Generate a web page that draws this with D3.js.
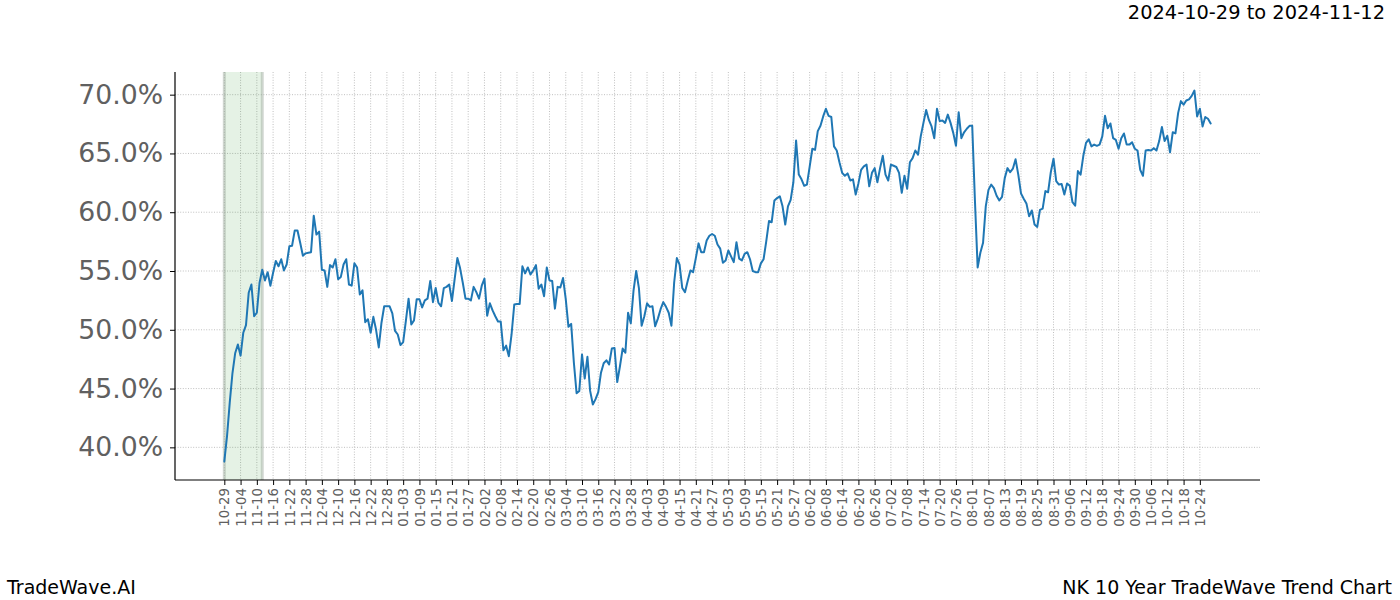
<!DOCTYPE html>
<html><head><meta charset="utf-8">
<script src="https://cdn.jsdelivr.net/npm/d3@7"></script>
<style>
body{margin:0;background:#fff}
svg{display:block}
text{font-family:"DejaVu Sans",sans-serif}
</style>
</head><body>
<svg id="chart" width="1400" height="600"></svg>
<script>
// ---- data ----
const startDate = "2022-10-29";
const values = [
38.8,40.96,43.8,46.3,48.0,48.75,47.8,49.75,50.4,53.15,
53.85,51.15,51.45,54.0,55.1,54.2,54.9,53.75,54.85,55.85,
55.4,56.0,55.05,55.55,57.1,57.15,58.45,58.45,57.4,56.3,
56.5,56.55,56.6,59.7,58.1,58.35,55.1,55.05,53.65,55.5,
55.3,56.0,54.3,54.5,55.55,56.0,53.85,53.75,55.65,55.3,
53.0,53.35,50.65,50.9,49.75,51.1,50.0,48.5,50.6,52.0,
52.0,52.0,51.4,49.9,49.6,48.7,48.95,50.75,52.65,50.45,
50.8,52.6,52.6,51.9,52.5,52.65,54.15,52.35,53.55,52.3,
52.0,53.55,53.65,53.85,52.45,54.3,56.1,55.25,54.0,52.65,
52.65,52.5,53.65,53.2,52.65,53.75,54.35,51.2,52.25,51.65,
51.15,50.7,50.7,48.25,48.65,47.75,49.6,52.15,52.2,52.2,
55.4,54.8,55.3,54.7,55.05,55.5,53.5,53.85,52.85,55.3,
54.2,54.15,51.8,53.65,53.6,54.4,52.6,50.25,50.5,47.2,
44.6,44.8,47.9,45.85,47.7,44.8,43.65,44.1,44.7,46.35,
47.15,47.4,47.05,48.4,48.45,45.55,46.9,48.4,48.05,51.45,
50.55,53.3,55.0,53.55,50.35,51.15,52.25,51.95,52.0,50.3,
50.95,51.75,52.35,51.95,51.45,50.35,54.0,56.1,55.55,53.55,
53.2,54.15,55.05,54.9,56.1,57.35,56.6,56.6,57.6,58.0,
58.15,58.0,57.25,56.9,55.7,55.9,56.75,56.25,55.75,57.45,
56.05,55.9,56.45,56.6,56.0,55.0,54.9,54.9,55.65,56.0,
57.55,59.25,59.15,61.0,61.2,61.35,60.5,58.95,60.5,61.05,
62.55,66.1,63.2,62.8,62.25,62.35,63.85,65.4,65.3,66.9,
67.35,68.15,68.8,68.2,68.1,65.6,65.25,64.25,63.35,63.1,
63.3,62.7,62.8,61.5,62.45,63.6,63.9,64.05,62.2,63.35,
63.75,62.55,63.75,64.8,63.2,62.7,64.05,63.95,63.85,63.35,
61.65,63.1,62.0,64.25,64.6,65.25,64.9,66.45,67.6,68.7,
67.85,67.3,66.3,68.8,67.75,67.8,67.6,68.3,67.6,66.75,
65.65,68.5,66.3,66.8,67.1,67.35,67.35,61.0,55.3,56.55,
57.4,60.5,61.9,62.35,62.05,61.4,61.0,61.3,62.9,63.75,
63.4,63.7,64.5,63.2,61.6,61.15,60.75,59.65,60.15,58.95,
58.75,60.2,60.3,61.8,61.7,63.4,64.55,62.65,62.35,62.4,
61.5,62.45,62.25,60.85,60.55,63.5,63.2,64.8,65.9,66.2,
65.6,65.75,65.65,65.75,66.45,68.2,67.15,67.55,66.3,66.15,
65.4,66.3,66.7,65.75,65.75,65.95,65.4,65.25,63.6,63.1,
65.25,65.3,65.25,65.45,65.25,66.05,67.25,66.05,66.5,65.1,
66.8,66.7,68.45,69.45,69.15,69.5,69.6,69.9,70.35,68.15,
68.8,67.3,68.1,67.95,67.55
];
const xTickLabels = ["10-29","11-04","11-10","11-16","11-22","11-28","12-04","12-10","12-16","12-22","12-28",
"01-03","01-09","01-15","01-21","01-27","02-02","02-08","02-14","02-20","02-26","03-04","03-10","03-16","03-22","03-28",
"04-03","04-09","04-15","04-21","04-27","05-03","05-09","05-15","05-21","05-27","06-02","06-08","06-14","06-20","06-26",
"07-02","07-08","07-14","07-20","07-26","08-01","08-07","08-13","08-19","08-25","08-31","09-06","09-12","09-18","09-24",
"09-30","10-06","10-12","10-18","10-24"];
const yTicks = [40, 45, 50, 55, 60, 65, 70];
const highlightStart = "2022-10-29";
const highlightEnd = "2022-11-12";
const titleText = "2024-10-29 to 2024-11-12";
const footerLeft = "TradeWave.AI";
const footerRight = "NK 10 Year TradeWave Trend Chart";

// ---- layout ----
const svg = d3.select("#chart");
const L = 175, R = 1260, T = 72, B = 480;
const parse = d3.utcParse("%Y-%m-%d");
const start = parse(startDate);
const data = values.map((v, i) => ({date: d3.utcDay.offset(start, i), v}));

// tick labels are month-day; year advances when the month wraps around
let yr = start.getUTCFullYear(), prevM = 0;
const tickDates = xTickLabels.map(s => {
  const m = +s.slice(0, 2);
  if (m < prevM) yr += 1;
  prevM = m;
  return parse(yr + "-" + s);
});

const xExt = d3.extent(data, d => +d.date);
const xPad = (xExt[1] - xExt[0]) * 0.05;
const x = d3.scaleUtc().domain([new Date(xExt[0] - xPad), new Date(xExt[1] + xPad)]).range([L, R]);
const yExt = d3.extent(values);
const yPad = (yExt[1] - yExt[0]) * 0.05;
const y = d3.scaleLinear().domain([yExt[0] - yPad, yExt[1] + yPad]).range([B, T]);

const gridColor = "#b0b0b0";
// grid
const grid = svg.append("g");
grid.selectAll("line.gx").data(tickDates).join("line")
  .attr("x1", d => x(d)).attr("x2", d => x(d))
  .attr("y1", T).attr("y2", B)
  .attr("stroke", gridColor).attr("stroke-width", 0.8).attr("stroke-dasharray", "1,1.6");
grid.selectAll("line.gy").data(yTicks).join("line")
  .attr("x1", L).attr("x2", R)
  .attr("y1", d => y(d)).attr("y2", d => y(d))
  .attr("stroke", gridColor).attr("stroke-width", 0.8).attr("stroke-dasharray", "1,1.6");

// highlight span
const hx0 = x(parse(highlightStart)), hx1 = x(parse(highlightEnd));
svg.append("rect").attr("x", hx0).attr("y", T).attr("width", hx1 - hx0).attr("height", B - T)
  .attr("fill", "green").attr("fill-opacity", 0.1);
[hx0, hx1].forEach(hx => svg.append("line").attr("x1", hx).attr("x2", hx).attr("y1", T).attr("y2", B)
  .attr("stroke", "#9aa69a").attr("stroke-opacity", 0.45).attr("stroke-width", 3));

// line
svg.append("path").datum(data)
  .attr("fill", "none").attr("stroke", "#1f77b4").attr("stroke-width", 2)
  .attr("stroke-linejoin", "round").attr("stroke-linecap", "round")
  .attr("d", d3.line().x(d => x(d.date)).y(d => y(d.v)));

// axes
const yAxis = svg.append("g").attr("transform", `translate(${L},0)`)
  .call(d3.axisLeft(y).tickValues(yTicks).tickSize(5).tickSizeOuter(0).tickPadding(7)
    .tickFormat(d => d.toFixed(1) + "%"));
yAxis.select(".domain").attr("d", `M0,${T}V${B}`).attr("stroke", "#000").attr("stroke-width", 1.2);
yAxis.selectAll(".tick line").attr("stroke", "#000");
yAxis.selectAll(".tick text").attr("font-size", "26.7px").attr("fill", "#606060")
  .attr("font-family", "DejaVu Sans");

const xAxis = svg.append("g").attr("transform", `translate(0,${B})`)
  .call(d3.axisBottom(x).tickValues(tickDates).tickSize(5).tickSizeOuter(0)
    .tickFormat((d, i) => xTickLabels[i]));
xAxis.select(".domain").attr("d", `M${L},0H${R}`).attr("stroke", "#000").attr("stroke-width", 1.2);
xAxis.selectAll(".tick line").attr("stroke", "#000");
xAxis.selectAll(".tick text")
  .attr("font-size", "13.3px").attr("fill", "#606060").attr("font-family", "DejaVu Sans")
  .attr("text-anchor", "end").attr("transform", "rotate(-90)")
  .attr("x", -8).attr("y", 0).attr("dy", "0.35em");

// texts
svg.append("text").attr("x", 1385).attr("y", 19).attr("text-anchor", "end")
  .attr("font-size", "19.4px").attr("fill", "#000").text(titleText);
svg.append("text").attr("x", 7).attr("y", 594)
  .attr("font-size", "19px").attr("fill", "#000").text(footerLeft);
svg.append("text").attr("x", 1392).attr("y", 594).attr("text-anchor", "end")
  .attr("font-size", "19px").attr("fill", "#000").text(footerRight);
</script>
</body></html>
